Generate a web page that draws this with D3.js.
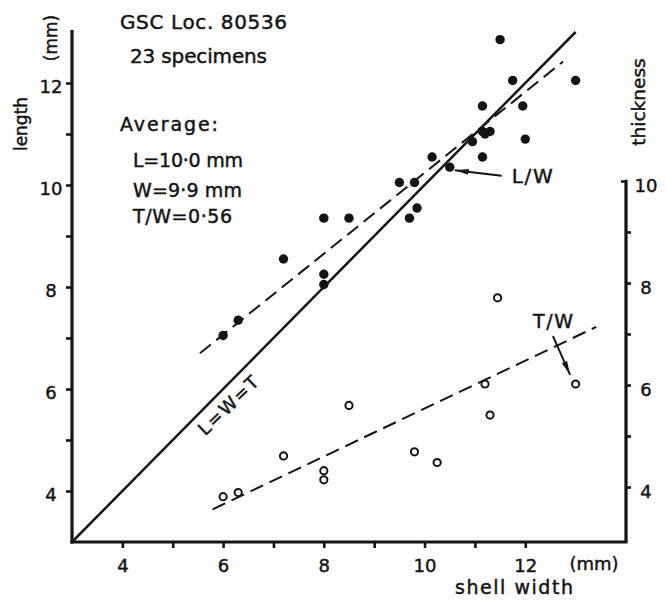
<!DOCTYPE html>
<html><head><meta charset="utf-8">
<script src="https://cdn.jsdelivr.net/npm/d3@7"></script>
<style>
html,body{margin:0;padding:0;background:#fff;}
svg{display:block;font-family:"DejaVu Sans",sans-serif;}
svg text{stroke:#141414;stroke-width:0.45px;}
</style></head>
<body>
<svg id="c" width="666" height="600"></svg>
<script>
// ---- data ----
const widthLW = [6.0,6.3,7.2,8.0,8.0,8.0,8.5,11.5,11.75,13.0,11.15,11.95,11.15,11.2,11.3,10.95,12.0,10.15,11.15,10.5,9.5,9.8,9.85,9.7];
const lengthL = [7.05,7.35,8.55,9.35,8.25,8.05,9.35,12.85,12.05,12.05,11.55,11.55,11.05,11.0,11.05,10.85,10.9,10.55,10.55,10.35,10.05,10.05,9.55,9.35];
const widthTW = [6.0,6.3,7.2,8.0,8.0,8.5,9.8,10.25,11.2,11.3,11.45,13.0];
const thickT  = [3.81,3.89,4.61,4.32,4.14,5.6,4.69,4.48,6.02,5.41,7.71,6.02];
const lineLWT = [[3,3],[13,13]];          // L = W = T
const fitLW   = [[5.54,6.70],[12.75,12.42]];
const fitTW   = [[5.79,3.56],[13.41,7.14]];
const xTicks = [4,5,6,7,8,9,10,11,12];
const yTicks = [4,5,6,7,8,9,10,11,12];
const rTicks = [4,5,6,7,8,9,10];
const infoLines = ["GSC Loc. 80536","23 specimens","Average:","L=10·0 mm","W=9·9 mm","T/W=0·56"];

const svg = d3.select("#c");
const x = d3.scaleLinear().domain([3,14]).range([72,626]);
const y = d3.scaleLinear().domain([3,13]).range([542,32]);
const yR = d3.scaleLinear().domain([4,10]).range([487,181]);
const ink = "#141414";

svg.append("rect").attr("width",666).attr("height",600).attr("fill","#fdfdfd");

svg.append("defs").append("marker").attr("id","ah")
  .attr("viewBox","0 0 14 8").attr("refX",14).attr("refY",4)
  .attr("markerWidth",14).attr("markerHeight",8).attr("markerUnits","userSpaceOnUse")
  .attr("orient","auto")
  .append("path").attr("d","M0,1.2 L14,4 L0,6.8 Z").attr("fill",ink);

// axes
const styleAxis = g => {
  g.select(".domain").remove();
  g.selectAll(".tick line").attr("stroke",ink).attr("stroke-width",2.6);
  g.selectAll(".tick text").attr("fill",ink).attr("font-size",18)
   .attr("font-family","DejaVu Sans, sans-serif");
};
const gl = svg.append("g").attr("transform",`translate(${x(3)},0)`)
  .call(d3.axisLeft(y).tickValues(yTicks).tickSize(6).tickFormat(d=>d%2===0?d:""));
styleAxis(gl);
gl.selectAll(".tick text").attr("x",-21).attr("text-anchor","middle").attr("dy","0.35em").attr("y",3);

const gb = svg.append("g").attr("transform",`translate(0,${y(3)})`)
  .call(d3.axisBottom(x).tickValues(xTicks).tickSize(6).tickFormat(d=>d%2===0?d:""));
styleAxis(gb);
gb.selectAll(".tick text").attr("y",30).attr("dy",0);

const gr = svg.append("g").attr("transform",`translate(${x(14)},0)`)
  .call(d3.axisRight(yR).tickValues(rTicks).tickSize(5).tickFormat(d=>d%2===0?d:""));
styleAxis(gr);
gr.selectAll(".tick text").attr("x",20).attr("text-anchor","middle").attr("dy","0.35em").attr("y",4);
gr.selectAll(".tick").filter(d=>d===10).select("line").attr("x2",-5);

// axis lines
const axStroke = 3.2;
svg.append("line").attr("x1",x(3)).attr("x2",x(3)).attr("y1",y(13)-2).attr("y2",y(3)+1.5)
  .attr("stroke",ink).attr("stroke-width",axStroke);
svg.append("line").attr("x1",x(3)-1.5).attr("x2",x(14)+1.5).attr("y1",y(3)).attr("y2",y(3))
  .attr("stroke",ink).attr("stroke-width",axStroke);
svg.append("line").attr("x1",x(14)).attr("x2",x(14)).attr("y1",yR(10)-1.2).attr("y2",y(3))
  .attr("stroke",ink).attr("stroke-width",axStroke);

// lines
const lineL = d3.line().x(d=>x(d[0])).y(d=>y(d[1]));
const lineR = d3.line().x(d=>x(d[0])).y(d=>yR(d[1]));
svg.append("path").attr("d",lineL(lineLWT)).attr("stroke",ink).attr("stroke-width",2.5).attr("fill","none");
svg.append("path").attr("d",lineL(fitLW)).attr("stroke",ink).attr("stroke-width",2).attr("fill","none")
  .attr("stroke-dasharray","14,7");
svg.append("path").attr("d",lineR(fitTW)).attr("stroke",ink).attr("stroke-width",2).attr("fill","none")
  .attr("stroke-dasharray","14,7");

// points
svg.append("g").selectAll("circle").data(widthLW.map((w,i)=>[w,lengthL[i]])).join("circle")
  .attr("cx",d=>x(d[0])).attr("cy",d=>y(d[1])).attr("r",4.7).attr("fill",ink);
svg.append("g").selectAll("circle").data(widthTW.map((w,i)=>[w,thickT[i]])).join("circle")
  .attr("cx",d=>x(d[0])).attr("cy",d=>yR(d[1])).attr("r",3.6).attr("fill","none")
  .attr("stroke",ink).attr("stroke-width",2);

// info text block
const infoPos = [[120,29,20,167],[130,63,20,137],[120,131,19,98],[133,167,19,110],[133,197,19,109],[133,223,19,99]];
svg.append("g").selectAll("text").data(infoLines).join("text")
  .attr("x",(d,i)=>infoPos[i][0]).attr("y",(d,i)=>infoPos[i][1])
  .attr("font-size",(d,i)=>infoPos[i][2]).attr("textLength",(d,i)=>infoPos[i][3])
  .attr("lengthAdjust","spacing").attr("fill",ink).text(d=>d);

// axis titles
svg.append("text").attr("transform","translate(21,124) rotate(-90)").attr("text-anchor","middle")
  .attr("dominant-baseline","central").attr("font-size",17).attr("fill",ink).text("length");
svg.append("text").attr("transform","translate(51,38) rotate(-90)").attr("text-anchor","middle")
  .attr("dominant-baseline","central").attr("font-size",17).attr("fill",ink).text("(mm)");
svg.append("text").attr("transform","translate(638,102) rotate(-90)").attr("text-anchor","middle")
  .attr("dominant-baseline","central").attr("font-size",18.5).attr("fill",ink).text("thickness");
svg.append("text").attr("x",514).attr("y",594).attr("text-anchor","middle")
  .attr("font-size",19).attr("textLength",118).attr("lengthAdjust","spacing").attr("fill",ink).text("shell width");
svg.append("text").attr("x",594).attr("y",570).attr("text-anchor","middle")
  .attr("font-size",18).attr("fill",ink).text("(mm)");

// line labels
svg.append("text").attr("transform",`translate(${x(6.1)},${y(5.68)}) rotate(-44)`)
  .attr("text-anchor","middle").attr("dominant-baseline","central")
  .attr("font-size",18).attr("textLength",76).attr("lengthAdjust","spacing")
  .attr("fill",ink).text("L=W=T");

// L/W arrow + label
svg.append("line").attr("x1",x(11.53)).attr("y1",y(10.18)).attr("x2",x(10.6)).attr("y2",y(10.29))
  .attr("stroke",ink).attr("stroke-width",2).attr("marker-end","url(#ah)");
svg.append("text").attr("x",x(11.73)).attr("y",y(10.03)).attr("font-size",20).attr("textLength",41)
  .attr("lengthAdjust","spacing").attr("fill",ink).text("L/W");
// T/W arrow + label
svg.append("line").attr("x1",x(12.55)).attr("y1",yR(6.96)).attr("x2",x(12.89)).attr("y2",yR(6.2))
  .attr("stroke",ink).attr("stroke-width",2).attr("marker-end","url(#ah)");
svg.append("text").attr("x",x(12.55)).attr("y",yR(7.12)).attr("text-anchor","middle")
  .attr("font-size",19).attr("textLength",40).attr("lengthAdjust","spacing").attr("fill",ink).text("T/W");
</script>
</body></html>
